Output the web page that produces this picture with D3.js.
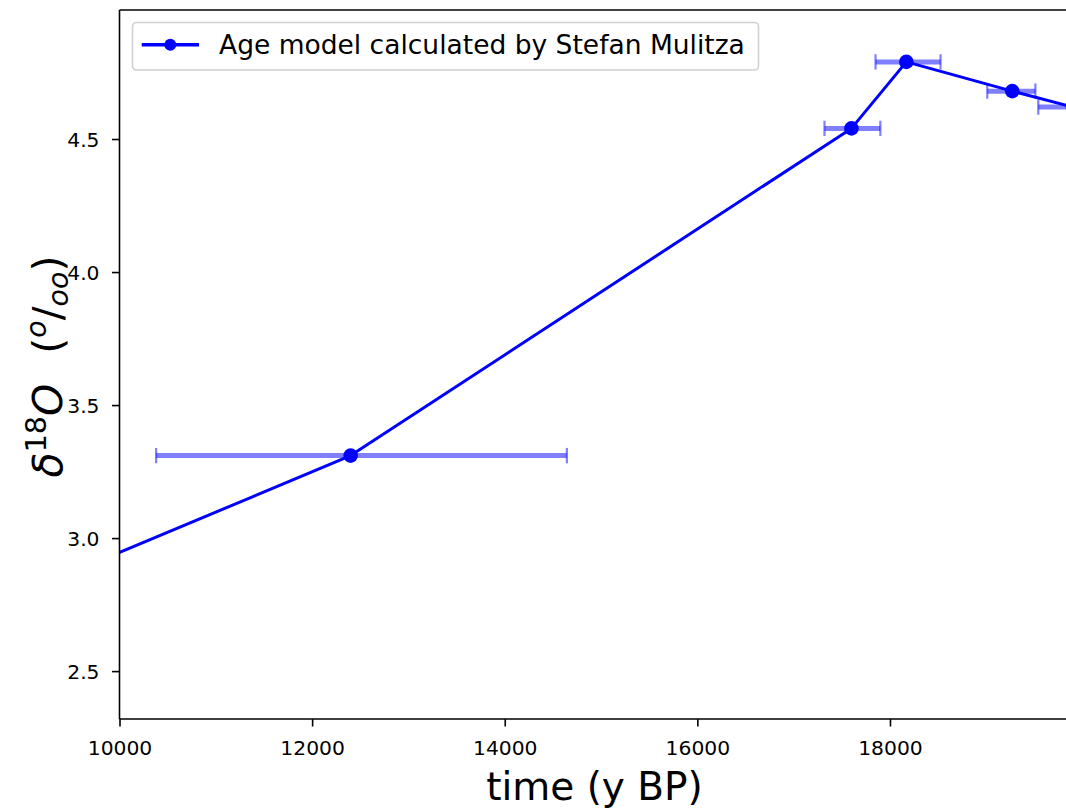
<!DOCTYPE html>
<html>
<head>
<meta charset="utf-8">
<script src="https://cdn.jsdelivr.net/npm/d3@7"></script>
<style>
  html, body { margin: 0; padding: 0; background: #ffffff; overflow: hidden; }
  svg { display: block; font-family: "DejaVu Sans", sans-serif; }
</style>
</head>
<body>
<svg id="chart" width="1066" height="808"></svg>
<script>
// ---- data ----
const times      = [9500, 12400, 17600, 18170, 19270, 19900];   // y BP
const d18O       = [2.87, 3.31, 4.54, 4.79, 4.68, 4.62];        // per mil
const ageErrLow  = [300, 2020, 280, 320, 260, 360];             // - y
const ageErrHigh = [300, 2245, 300, 355, 240, 360];             // + y
const xTicks     = [10000, 12000, 14000, 16000, 18000];
const yTicks     = [2.5, 3.0, 3.5, 4.0, 4.5];
const seriesLabel = "Age model calculated by Stefan Mulitza";
const xLabel = "time (y BP)";

// ---- layout ----
const plotLeft = 119.5, plotTop = 10, plotBottom = 719;
const xDomain = [10000, 20000];
const xRange = [plotLeft, plotLeft + 10000 * 0.09631];
const yDomain = [2.32, 4.985];

const svg = d3.select("#chart");
const x = d3.scaleLinear().domain(xDomain).range(xRange);
const y = d3.scaleLinear().domain(yDomain).range([plotBottom, plotTop]);
const plotRight = xRange[1];

svg.append("rect").attr("width", 1066).attr("height", 808).attr("fill", "#fff");

svg.append("defs").append("clipPath").attr("id", "plotClip")
  .append("rect").attr("x", plotLeft).attr("y", plotTop)
  .attr("width", plotRight - plotLeft).attr("height", plotBottom - plotTop);

const plot = svg.append("g").attr("clip-path", "url(#plotClip)");
const data = times.map((t, i) => ({t, v: d18O[i], lo: t - ageErrLow[i], hi: t + ageErrHigh[i]}));

// error bars
const eb = plot.append("g").attr("stroke", "rgba(0,0,255,0.5)").attr("fill", "none");
data.forEach(d => {
  const yy = y(d.v);
  eb.append("line").attr("x1", x(d.lo)).attr("x2", x(d.hi))
    .attr("y1", yy).attr("y2", yy).attr("stroke-width", 5);
  [d.lo, d.hi].forEach(c => {
    eb.append("line").attr("x1", x(c)).attr("x2", x(c))
      .attr("y1", yy - 7.7).attr("y2", yy + 7.7).attr("stroke-width", 2.2);
  });
});

// line
plot.append("path").datum(data)
  .attr("d", d3.line().x(d => x(d.t)).y(d => y(d.v)))
  .attr("fill", "none").attr("stroke", "#0000ff").attr("stroke-width", 3)
  .attr("stroke-linejoin", "round");

// markers
plot.selectAll("circle.pt").data(data).enter().append("circle")
  .attr("class", "pt").attr("cx", d => x(d.t)).attr("cy", d => y(d.v))
  .attr("r", 7.3).attr("fill", "#0000ff");

// spines
const spine = svg.append("g").attr("stroke", "#000").attr("stroke-width", 1.6).attr("fill", "none");
spine.append("line").attr("x1", plotLeft).attr("x2", plotLeft).attr("y1", plotTop).attr("y2", plotBottom);
spine.append("line").attr("x1", plotLeft).attr("x2", plotRight).attr("y1", plotTop).attr("y2", plotTop);
spine.append("line").attr("x1", plotLeft).attr("x2", plotRight).attr("y1", plotBottom).attr("y2", plotBottom);

// x axis
const xAxis = svg.append("g").attr("transform", `translate(0,${plotBottom})`)
  .call(d3.axisBottom(x).tickValues(xTicks).tickSize(7.5).tickPadding(0).tickFormat(d3.format("d")));
xAxis.select(".domain").remove();
xAxis.selectAll(".tick line").attr("stroke", "#000").attr("stroke-width", 1.6);
xAxis.selectAll(".tick text").attr("font-family", "DejaVu Sans").attr("font-size", 20.3)
  .attr("fill", "#000").attr("y", 36).attr("dy", null);

// y axis
const yAxis = svg.append("g").attr("transform", `translate(${plotLeft},0)`)
  .call(d3.axisLeft(y).tickValues(yTicks).tickSize(7.5).tickPadding(0).tickFormat(d3.format(".1f")));
yAxis.select(".domain").remove();
yAxis.selectAll(".tick line").attr("stroke", "#000").attr("stroke-width", 1.6);
yAxis.selectAll(".tick text").attr("font-family", "DejaVu Sans").attr("font-size", 20.3)
  .attr("fill", "#000").attr("x", -20).attr("dy", "0.37em");

// x label
svg.append("text").attr("x", (486 + 703) / 2).attr("y", 800)
  .attr("text-anchor", "middle").attr("font-size", 39).attr("fill", "#000")
  .text(xLabel);

// y label (mathtext-like)
const yl = svg.append("text").attr("transform", "translate(62,366.5) rotate(-90)")
  .attr("text-anchor", "middle").attr("font-size", 41).attr("fill", "#000");
yl.append("tspan").attr("font-style", "italic").text("δ");
yl.append("tspan").attr("font-size", 28.5).attr("dy", -16).text("18");
yl.append("tspan").attr("font-style", "italic").attr("dy", 16).text("O");
yl.append("tspan").attr("dx", 30).text("(");
yl.append("tspan").attr("font-style", "italic").attr("font-size", 28.5).attr("dy", -16).text("o");
yl.append("tspan").attr("dy", 16).text("/");
yl.append("tspan").attr("font-style", "italic").attr("font-size", 28.5).attr("dy", 6).text("oo");
yl.append("tspan").attr("dy", -6).text(")");

// legend
const lg = svg.append("g");
lg.append("rect").attr("x", 132.5).attr("y", 22.5).attr("width", 626).attr("height", 47.5)
  .attr("rx", 4).attr("fill", "rgba(255,255,255,0.8)").attr("stroke", "#d0d0d0").attr("stroke-width", 1.6);
lg.append("line").attr("x1", 141.7).attr("x2", 199).attr("y1", 44.7).attr("y2", 44.7)
  .attr("stroke", "#0000ff").attr("stroke-width", 3.5);
lg.append("circle").attr("cx", 170.3).attr("cy", 44.7).attr("r", 6).attr("fill", "#0000ff");
lg.append("text").attr("x", 219).attr("y", 53.5).attr("font-size", 26.5).attr("fill", "#000")
  .text(seriesLabel);
</script>
</body>
</html>
